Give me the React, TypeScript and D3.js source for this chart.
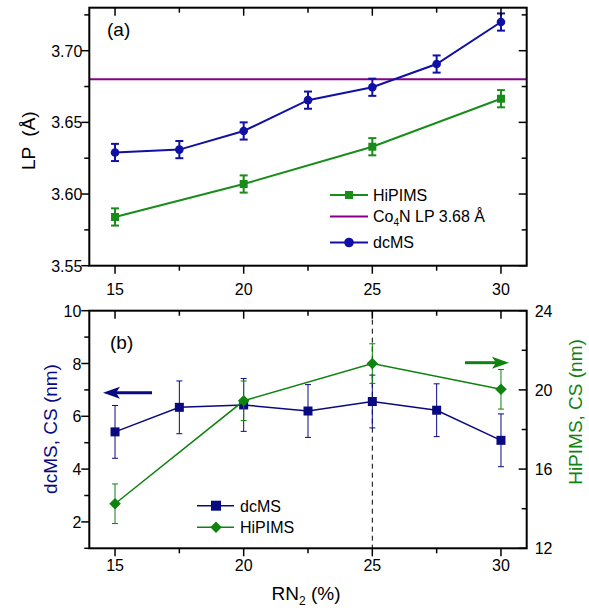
import React from "react";
import * as d3 from "d3";

const xVals = [15, 17.5, 20, 22.5, 25, 27.5, 30];
const lpDcms = [3.629, 3.631, 3.644, 3.6655, 3.6745, 3.6907, 3.72];
const lpDcmsErr = [0.006, 0.006, 0.006, 0.006, 0.006, 0.006, 0.006];
const xHipims = [15, 20, 25, 30];
const lpHipims = [3.584, 3.607, 3.633, 3.6665];
const lpHipimsErr = [0.006, 0.006, 0.006, 0.006];
const co4nLP = 3.68;

const csDcms = [5.41, 6.34, 6.43, 6.2, 6.56, 6.23, 5.09];
const csDcmsErr = [1.0, 1.0, 1.0, 1.0, 1.0, 1.0, 1.0];
const csHipims = [14.25, 19.45, 21.33, 20.03];
const csHipimsErr = [1.0, 1.0, 1.0, 1.0];

const xTicks = [15, 20, 25, 30];
const xMinor = [17.5, 22.5, 27.5];
const lpTicks = [3.55, 3.6, 3.65, 3.7];
const lpMinor = [3.575, 3.625, 3.675, 3.725];
const csLTicks = [2, 4, 6, 8, 10];
const csLMinor = [1, 3, 5, 7, 9];
const csRTicks = [12, 16, 20, 24];
const csRMinor = [14, 18, 22];

const FONT = "'Liberation Sans', Arial, sans-serif";
const BLUE_A = "#1010a4";
const GREEN_A = "#1a8c1a";
const PURPLE = "#880088";
const NAVY = "#0a0a80";
const GREEN_B = "#0f820f";
const TICK_FS = 16;
const TITLE_FS = 19;
const LEG_FS = 16;

const L = 89.3, R = 526.7;
const xA = d3.scaleLinear().domain([14, 31]).range([L, R]);
const yA = d3.scaleLinear().domain([3.55, 3.73]).range([265.7, 7.7]);
const xB = d3.scaleLinear().domain([14, 31]).range([L, R]);
const yBL = d3.scaleLinear().domain([1, 10]).range([548.3, 310.7]);
const yBR = d3.scaleLinear().domain([12, 24]).range([548.3, 310.7]);

function Frame({ top, bottom }: { top: number; bottom: number }) {
  return (
    <rect x={L} y={top} width={R - L} height={bottom - top} fill="none" stroke="#000" strokeWidth={2} />
  );
}

export default function App() {
  const lineA = d3.line<[number, number]>().x((d) => xA(d[0])).y((d) => yA(d[1]));
  const lineBL = d3.line<[number, number]>().x((d) => xB(d[0])).y((d) => yBL(d[1]));
  const lineBR = d3.line<[number, number]>().x((d) => xB(d[0])).y((d) => yBR(d[1]));
  const topA = yA.range()[1], botA = yA.range()[0];
  const topB = yBL.range()[1], botB = yBL.range()[0];
  const diamond = d3.symbol().type(d3.symbolDiamond2).size(85)() as string;

  return (
    <svg width={589} height={610} style={{ position: "absolute", left: 0, top: 0 }} fontFamily={FONT}>
      {/* ===== Panel (a) ===== */}
      <g>
        <line x1={L} x2={R} y1={yA(co4nLP)} y2={yA(co4nLP)} stroke={PURPLE} strokeWidth={2} />
        <path d={lineA(xHipims.map((x, i) => [x, lpHipims[i]]) as [number, number][]) || ""} fill="none" stroke={GREEN_A} strokeWidth={2} />
        {xHipims.map((x, i) => (
          <g key={"ha" + i} stroke={GREEN_A} strokeWidth={2}>
            <line x1={xA(x)} x2={xA(x)} y1={yA(lpHipims[i] - lpHipimsErr[i])} y2={yA(lpHipims[i] + lpHipimsErr[i])} />
            <line x1={xA(x) - 4} x2={xA(x) + 4} y1={yA(lpHipims[i] - lpHipimsErr[i])} y2={yA(lpHipims[i] - lpHipimsErr[i])} />
            <line x1={xA(x) - 4} x2={xA(x) + 4} y1={yA(lpHipims[i] + lpHipimsErr[i])} y2={yA(lpHipims[i] + lpHipimsErr[i])} />
            <rect x={xA(x) - 4} y={yA(lpHipims[i]) - 4} width={8} height={8} fill={GREEN_A} stroke="none" />
          </g>
        ))}
        <path d={lineA(xVals.map((x, i) => [x, lpDcms[i]]) as [number, number][]) || ""} fill="none" stroke={BLUE_A} strokeWidth={2} />
        {xVals.map((x, i) => (
          <g key={"da" + i} stroke={BLUE_A} strokeWidth={2}>
            <line x1={xA(x)} x2={xA(x)} y1={yA(lpDcms[i] - lpDcmsErr[i])} y2={yA(lpDcms[i] + lpDcmsErr[i])} />
            <line x1={xA(x) - 4} x2={xA(x) + 4} y1={yA(lpDcms[i] - lpDcmsErr[i])} y2={yA(lpDcms[i] - lpDcmsErr[i])} />
            <line x1={xA(x) - 4} x2={xA(x) + 4} y1={yA(lpDcms[i] + lpDcmsErr[i])} y2={yA(lpDcms[i] + lpDcmsErr[i])} />
            <circle cx={xA(x)} cy={yA(lpDcms[i])} r={4.3} fill={BLUE_A} stroke="none" />
          </g>
        ))}
        <Frame top={topA} bottom={botA} />
        {xTicks.map((t) => (
          <g key={"xat" + t}>
            <line x1={xA(t)} x2={xA(t)} y1={botA} y2={botA + 8} stroke="#000" strokeWidth={1.5} />
            <line x1={xA(t)} x2={xA(t)} y1={topA} y2={topA + 8} stroke="#000" strokeWidth={1.5} />
            <text x={xA(t)} y={botA + 29} fontSize={TICK_FS} textAnchor="middle">{t}</text>
          </g>
        ))}
        {xMinor.map((t) => (
          <g key={"xam" + t}>
            <line x1={xA(t)} x2={xA(t)} y1={botA} y2={botA + 5} stroke="#000" strokeWidth={1.5} />
            <line x1={xA(t)} x2={xA(t)} y1={topA} y2={topA + 5} stroke="#000" strokeWidth={1.5} />
          </g>
        ))}
        {lpTicks.map((t) => (
          <g key={"yat" + t}>
            <line x1={L - 8} x2={L} y1={yA(t)} y2={yA(t)} stroke="#000" strokeWidth={1.5} />
            <line x1={R - 8} x2={R} y1={yA(t)} y2={yA(t)} stroke="#000" strokeWidth={1.5} />
            <text x={L - 7} y={yA(t) + 6} fontSize={TICK_FS} textAnchor="end">{t.toFixed(2)}</text>
          </g>
        ))}
        {lpMinor.map((t) => (
          <g key={"yam" + t}>
            <line x1={L - 5} x2={L} y1={yA(t)} y2={yA(t)} stroke="#000" strokeWidth={1.5} />
            <line x1={R - 5} x2={R} y1={yA(t)} y2={yA(t)} stroke="#000" strokeWidth={1.5} />
          </g>
        ))}
        <text x={107} y={36} fontSize={TITLE_FS}>(a)</text>
        <text transform={`translate(35,${(topA + botA) / 2 + 4}) rotate(-90)`} fontSize={TITLE_FS} textAnchor="middle" style={{ whiteSpace: "pre" }}>LP  (Å)</text>
        <g fontSize={LEG_FS}>
          <line x1={330} x2={368} y1={195} y2={195} stroke={GREEN_A} strokeWidth={2} />
          <rect x={345} y={191} width={8} height={8} fill={GREEN_A} />
          <text x={373} y={200.8}>HiPIMS</text>
          <line x1={330} x2={368} y1={216.5} y2={216.5} stroke={PURPLE} strokeWidth={2} />
          <text x={373} y={222.3}>Co<tspan fontSize={10} dy={4}>4</tspan><tspan dy={-4}>N LP 3.68 Å</tspan></text>
          <line x1={330} x2={368} y1={242.5} y2={242.5} stroke={BLUE_A} strokeWidth={2} />
          <circle cx={349} cy={242.5} r={4.8} fill={BLUE_A} />
          <text x={373} y={248.3}>dcMS</text>
        </g>
      </g>

      {/* ===== Panel (b) ===== */}
      <g>
        <line x1={xB(25)} x2={xB(25)} y1={topB} y2={botB} stroke="#000" strokeWidth={1} strokeDasharray="5,4" />
        <path d={lineBL(xVals.map((x, i) => [x, csDcms[i]]) as [number, number][]) || ""} fill="none" stroke={NAVY} strokeWidth={1.5} />
        {xVals.map((x, i) => (
          <g key={"db" + i} stroke={NAVY} strokeWidth={1}>
            <line x1={xB(x)} x2={xB(x)} y1={yBL(csDcms[i] - csDcmsErr[i])} y2={yBL(csDcms[i] + csDcmsErr[i])} />
            <line x1={xB(x) - 3} x2={xB(x) + 3} y1={yBL(csDcms[i] - csDcmsErr[i])} y2={yBL(csDcms[i] - csDcmsErr[i])} />
            <line x1={xB(x) - 3} x2={xB(x) + 3} y1={yBL(csDcms[i] + csDcmsErr[i])} y2={yBL(csDcms[i] + csDcmsErr[i])} />
            <rect x={xB(x) - 4.5} y={yBL(csDcms[i]) - 4.5} width={9} height={9} fill={NAVY} stroke="none" />
          </g>
        ))}
        <path d={lineBR(xHipims.map((x, i) => [x, csHipims[i]]) as [number, number][]) || ""} fill="none" stroke={GREEN_B} strokeWidth={1.5} />
        {xHipims.map((x, i) => (
          <g key={"hb" + i} stroke={GREEN_B} strokeWidth={1}>
            <line x1={xB(x)} x2={xB(x)} y1={yBR(csHipims[i] - csHipimsErr[i])} y2={yBR(csHipims[i] + csHipimsErr[i])} />
            <line x1={xB(x) - 3} x2={xB(x) + 3} y1={yBR(csHipims[i] - csHipimsErr[i])} y2={yBR(csHipims[i] - csHipimsErr[i])} />
            <line x1={xB(x) - 3} x2={xB(x) + 3} y1={yBR(csHipims[i] + csHipimsErr[i])} y2={yBR(csHipims[i] + csHipimsErr[i])} />
            <path d={diamond} transform={`translate(${xB(x)},${yBR(csHipims[i])})`} fill={GREEN_B} stroke="none" />
          </g>
        ))}
        <Frame top={topB} bottom={botB} />
        {xTicks.map((t) => (
          <g key={"xbt" + t}>
            <line x1={xB(t)} x2={xB(t)} y1={botB} y2={botB + 8} stroke="#000" strokeWidth={1.5} />
            <line x1={xB(t)} x2={xB(t)} y1={topB} y2={topB + 8} stroke="#000" strokeWidth={1.5} />
            <text x={xB(t)} y={botB + 23} fontSize={TICK_FS} textAnchor="middle">{t}</text>
          </g>
        ))}
        {xMinor.map((t) => (
          <g key={"xbm" + t}>
            <line x1={xB(t)} x2={xB(t)} y1={botB} y2={botB + 5} stroke="#000" strokeWidth={1.5} />
            <line x1={xB(t)} x2={xB(t)} y1={topB} y2={topB + 5} stroke="#000" strokeWidth={1.5} />
          </g>
        ))}
        {csLTicks.map((t) => (
          <g key={"ylt" + t}>
            <line x1={L - 8} x2={L} y1={yBL(t)} y2={yBL(t)} stroke="#000" strokeWidth={1.5} />
            <text x={L - 8} y={yBL(t) + 6} fontSize={TICK_FS} textAnchor="end">{t}</text>
          </g>
        ))}
        {csLMinor.map((t) => (
          <line key={"ylm" + t} x1={L - 5} x2={L} y1={yBL(t)} y2={yBL(t)} stroke="#000" strokeWidth={1.5} />
        ))}
        {csRTicks.map((t) => (
          <g key={"yrt" + t}>
            <line x1={R - 8} x2={R} y1={yBR(t)} y2={yBR(t)} stroke="#000" strokeWidth={1.5} />
            <text x={R + 8} y={yBR(t) + 6} fontSize={TICK_FS} textAnchor="start">{t}</text>
          </g>
        ))}
        {csRMinor.map((t) => (
          <line key={"yrm" + t} x1={R - 5} x2={R} y1={yBR(t)} y2={yBR(t)} stroke="#000" strokeWidth={1.5} />
        ))}
        <text x={110} y={349} fontSize={TITLE_FS}>(b)</text>
        <text transform={`translate(57,429) rotate(-90)`} fontSize={TITLE_FS} textAnchor="middle" fill={NAVY}>dcMS, CS (nm)</text>
        <text transform={`translate(582,412) rotate(-90)`} fontSize={TITLE_FS} textAnchor="middle" fill={GREEN_B}>HiPIMS, CS (nm)</text>
        <text x={306} y={600} fontSize={TITLE_FS} textAnchor="middle">RN<tspan fontSize={12} dy={5}>2</tspan><tspan dy={-5}> (%)</tspan></text>
        {/* arrows */}
        <line x1={152} x2={116} y1={392.7} y2={392.7} stroke={NAVY} strokeWidth={3} />
        <path d="M103,392.7 L120,386.7 L116,392.7 L120,398.7 Z" fill={NAVY} />
        <line x1={465} x2={496} y1={362.7} y2={362.7} stroke={GREEN_B} strokeWidth={3} />
        <path d="M509,362.7 L492,356.7 L496,362.7 L492,368.7 Z" fill={GREEN_B} />
        <g fontSize={LEG_FS}>
          <line x1={197} x2={234} y1={505.7} y2={505.7} stroke={NAVY} strokeWidth={1.5} />
          <rect x={211} y={500.7} width={10} height={10} fill={NAVY} />
          <text x={240} y={511.5}>dcMS</text>
          <line x1={197} x2={234} y1={527.3} y2={527.3} stroke={GREEN_B} strokeWidth={1.5} />
          <path d={diamond} transform="translate(216,527.3)" fill={GREEN_B} />
          <text x={240} y={533}>HiPIMS</text>
        </g>
      </g>
    </svg>
  );
}
